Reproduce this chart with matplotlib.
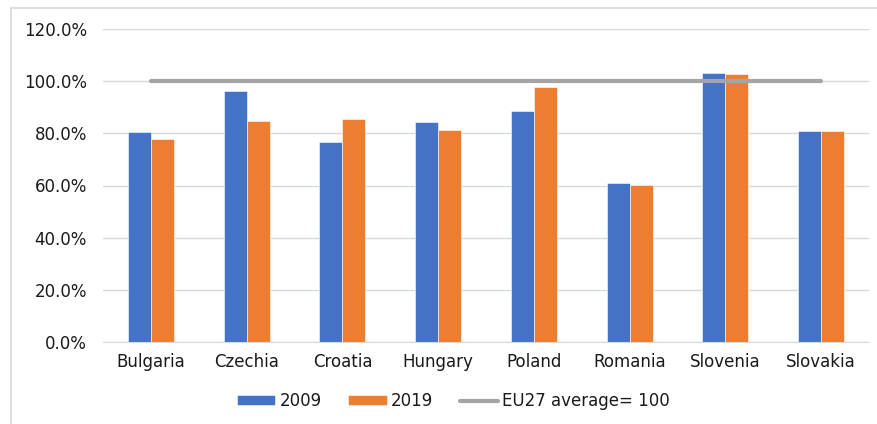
import matplotlib
matplotlib.use("Agg")
import matplotlib.pyplot as plt
from matplotlib.lines import Line2D
from matplotlib.ticker import FuncFormatter
import numpy as np

countries = ["Bulgaria", "Czechia", "Croatia", "Hungary", "Poland",
             "Romania", "Slovenia", "Slovakia"]
values_2009 = [80.6, 96.2, 76.8, 84.5, 88.6, 61.1, 103.1, 81.0]
values_2019 = [78.0, 84.8, 85.5, 81.4, 97.9, 60.1, 102.7, 81.0]
eu_average = [100] * len(countries)
y_ticks = [0, 20, 40, 60, 80, 100, 120]

blue = "#4472C4"
orange = "#ED7D31"
grey = "#A5A5A5"
grid = "#D9D9D9"
text_color = "#1A1A1A"

plt.rcParams["font.family"] = ["DejaVu Sans"]

fig = plt.figure(figsize=(8.77, 4.24), dpi=100)
# chart frame: left and top edges fall inside the canvas
fig.add_artist(Line2D([10.5 / 877, 10.5 / 877], [0, 1 - 7.5 / 424],
                      transform=fig.transFigure, color=grid, linewidth=1.2))
fig.add_artist(Line2D([10.5 / 877, 1], [1 - 7.5 / 424, 1 - 7.5 / 424],
                      transform=fig.transFigure, color=grid, linewidth=1.2))

ax = fig.add_axes([103 / 877, 1 - 342 / 424, 766 / 877, 313 / 424])

x = np.arange(len(countries))
w = 0.24
ax.bar(x - w / 2, values_2009, width=w, color=blue, edgecolor="white",
       linewidth=0.4, label="2009", zorder=3)
ax.bar(x + w / 2, values_2019, width=w, color=orange, edgecolor="white",
       linewidth=0.4, label="2019", zorder=3)
ax.plot(x, eu_average, color=grey, linewidth=3, solid_capstyle="round",
        label="EU27 average= 100", zorder=4)

ax.set_xlim(-0.5, len(countries) - 0.5)
ax.set_ylim(0, 120)
ax.set_yticks(y_ticks)
ax.yaxis.set_major_formatter(FuncFormatter(lambda v, _: f"{v:.1f}%"))
ax.set_xticks(x)
ax.set_xticklabels(countries)
ax.grid(axis="y", color=grid, linewidth=1.0, zorder=0)
ax.tick_params(axis="both", length=0, labelsize=12, colors=text_color)
ax.tick_params(axis="x", pad=8)
ax.tick_params(axis="y", pad=11.5)
for side in ["top", "right", "left"]:
    ax.spines[side].set_visible(False)
ax.spines["bottom"].set_color(grid)
ax.spines["bottom"].set_zorder(5)

handles, labels = ax.get_legend_handles_labels()
order = [1, 2, 0]
leg = fig.legend([handles[i] for i in order], [labels[i] for i in order],
                 loc="center", bbox_to_anchor=(453.5 / 877, 1 - 401 / 424),
                 ncol=3, frameon=False, fontsize=12, handlelength=2.3,
                 handleheight=0.5, columnspacing=1.6, handletextpad=0.25)
for t in leg.get_texts():
    t.set_color(text_color)

fig.savefig("out.png", dpi=100)
